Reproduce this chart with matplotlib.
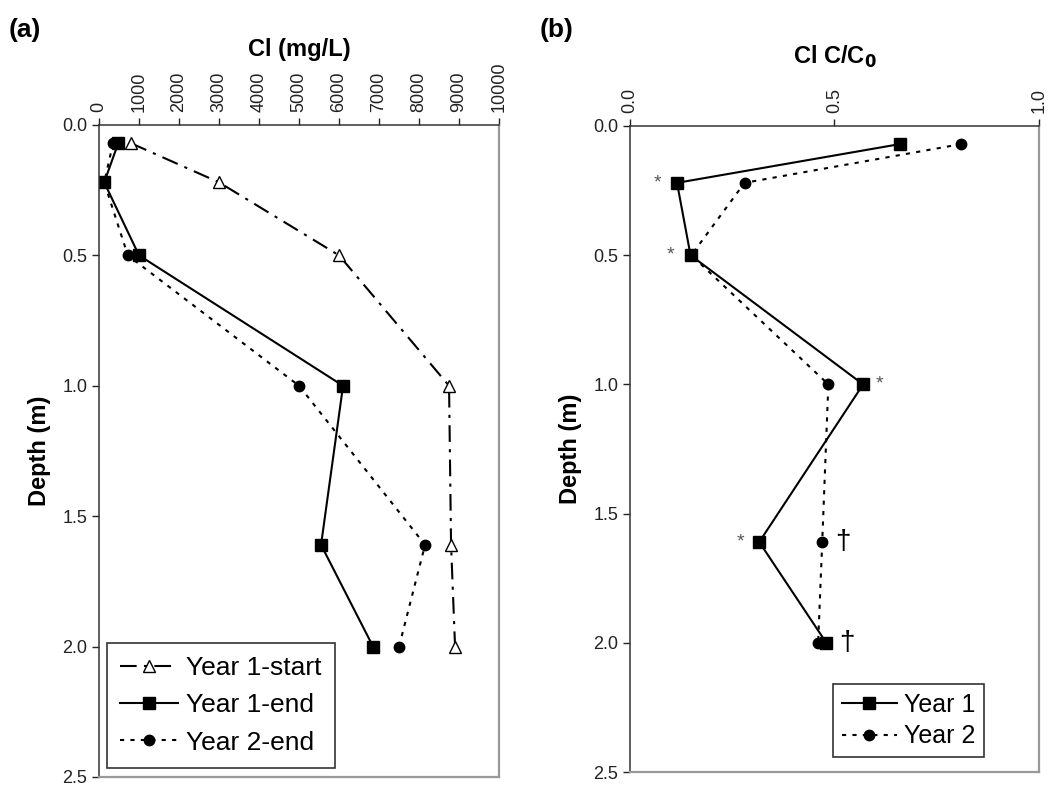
import matplotlib
matplotlib.use("Agg")
import matplotlib.pyplot as plt
from matplotlib.ticker import FormatStrFormatter

plt.rcParams['font.family'] = ['Liberation Sans', 'DejaVu Sans']

# depths (m)
depth = [0.07, 0.22, 0.5, 1.0, 1.61, 2.0]

# panel (a) Cl in mg/L
y1_start = [800, 3000, 6000, 8750, 8800, 8900]
y1_end = [480, 130, 1000, 6100, 5550, 6850]
y2_end = [350, 130, 720, 5000, 8150, 7500]

# panel (b) C/C0
b_year1 = [0.66, 0.115, 0.148, 0.57, 0.316, 0.48]
b_year2 = [0.81, 0.28, 0.15, 0.485, 0.47, 0.46]

# significance marks in panel (b): (x, depth)
star_marks = [(0.068, 0.22), (0.098, 0.5), (0.61, 1.0), (0.27, 1.61)]
dagger_marks = [(0.52, 1.61), (0.53, 2.0)]

a_ticks = [0, 1000, 2000, 3000, 4000, 5000, 6000, 7000, 8000, 9000, 10000]
b_ticks = [0.0, 0.5, 1.0]
depth_ticks = [0.0, 0.5, 1.0, 1.5, 2.0, 2.5]

dashdot = (0, (8, 3.5, 1.5, 3.5))
dotted = (0, (2, 3))


def style_axes(ax):
    ax.set_ylim(2.5, 0)
    ax.set_yticks(depth_ticks)
    ax.yaxis.set_major_formatter(FormatStrFormatter('%.1f'))
    ax.xaxis.tick_top()
    ax.xaxis.set_label_position('top')
    ax.tick_params(direction='out', length=5, width=1, labelsize=13, colors='#222222')
    ax.tick_params(axis='x', labelrotation=90, pad=4)
    for s in ['top', 'left']:
        ax.spines[s].set_color('#333333')
        ax.spines[s].set_linewidth(1.1)
    for s in ['right', 'bottom']:
        ax.spines[s].set_color('#999999')
        ax.spines[s].set_linewidth(1.6)
    ax.set_ylabel('Depth (m)', fontsize=17, fontweight='bold', labelpad=8)


fig = plt.figure(figsize=(10.5, 7.86), dpi=100)

# ---- panel (a)
ax1 = fig.add_axes([0.0943, 0.0115, 0.381, 0.8295])
ax1.plot(y1_start, depth, color='black', linestyle=dashdot, linewidth=1.5,
         marker='^', markersize=9, markerfacecolor='white', markeredgecolor='black',
         markeredgewidth=1, label='Year 1-start')
ax1.plot(y1_end, depth, color='black', linestyle='-', linewidth=1.5,
         marker='s', markersize=9, label='Year 1-end')
ax1.plot(y2_end, depth, color='black', linestyle=dotted, linewidth=1.5,
         marker='o', markersize=7.5, label='Year 2-end')
ax1.set_xlim(0, 10000)
ax1.set_xticks(a_ticks)
style_axes(ax1)
ax1.set_xlabel('Cl (mg/L)', fontsize=17, fontweight='bold', labelpad=4)
leg1 = ax1.legend(loc='lower left', bbox_to_anchor=(0.02, 0.014), fontsize=19,
                  frameon=True, fancybox=False, edgecolor='black', handlelength=2.2,
                  handletextpad=0.3, labelspacing=0.5, borderpad=0.5, borderaxespad=0)
leg1.get_frame().set_linewidth(1.2)
fig.text(0.008, 0.962, '(a)', fontsize=19, fontweight='bold', va='center')

# ---- panel (b)
ax2 = fig.add_axes([0.6, 0.0178, 0.3895, 0.8219])
ax2.plot(b_year1, depth, color='black', linestyle='-', linewidth=1.5,
         marker='s', markersize=9, label='Year 1')
ax2.plot(b_year2, depth, color='black', linestyle=dotted, linewidth=1.5,
         marker='o', markersize=7.5, label='Year 2')
for x, d in star_marks:
    ax2.text(x, d, '*', fontsize=14, color='#555555', ha='center', va='center')
for x, d in dagger_marks:
    ax2.text(x, d, '\u2020', fontsize=20, color='black', ha='center', va='center')
ax2.set_xlim(0, 1)
ax2.set_xticks(b_ticks)
ax2.xaxis.set_major_formatter(FormatStrFormatter('%.1f'))
style_axes(ax2)
ax2.set_xlabel('Cl C/C$_\\mathbf{0}$', fontsize=17, fontweight='bold', labelpad=18)
leg2 = ax2.legend(loc='lower right', bbox_to_anchor=(0.866, 0.023), fontsize=18,
                  frameon=True, fancybox=False, edgecolor='black', handlelength=2.2,
                  handletextpad=0.3, labelspacing=0.3, borderpad=0.35, borderaxespad=0)
leg2.get_frame().set_linewidth(1.2)
fig.text(0.514, 0.962, '(b)', fontsize=19, fontweight='bold', va='center')

fig.savefig('out.png', dpi=100)
